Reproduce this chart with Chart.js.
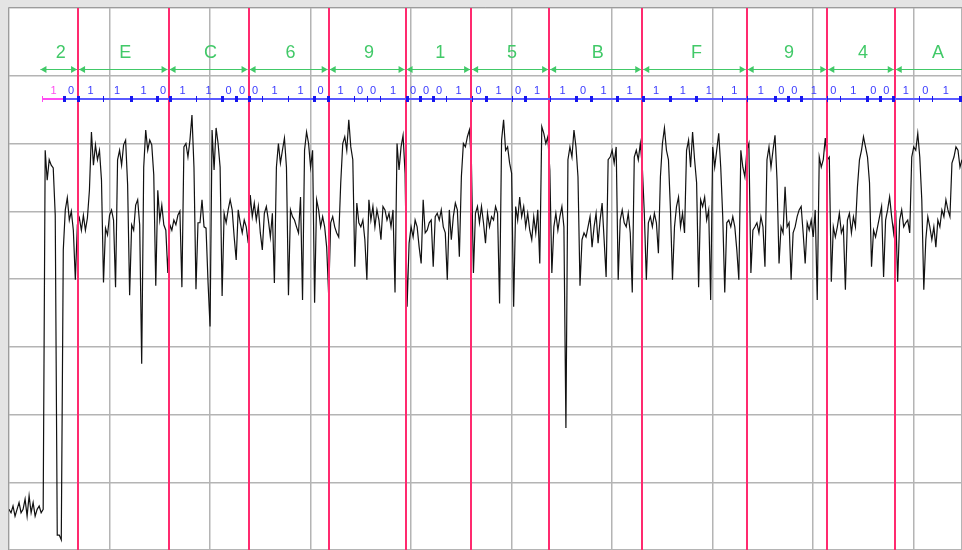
<!DOCTYPE html>
<html>
<head>
<meta charset="utf-8">
<script src="https://cdn.jsdelivr.net/npm/chart.js@4/dist/chart.umd.min.js"></script>
<style>
  html, body { margin: 0; padding: 0; background: #e4e4e4; overflow: hidden; }
  canvas { display: block; }
</style>
</head>
<body>
<canvas id="scope" width="962" height="550"></canvas>
<script>
// Sample spacing of the captured trace (time units per sample)
const SAMPLE_STEP = 2;

// Captured receiver output, one value per sample
const signal = [
  0.6,0.55,0.65,0.5,0.6,0.7,0.55,0.6,0.75,0.5,
  0.8,0.55,0.7,0.5,0.6,0.65,0.55,0.6,5.9,5.46,
  5.76,5.68,5.64,4.94,0.22,0.22,0.15,4.43,5.02,5.2,
  4.87,5.0,4.72,3.99,4.8,4.9,4.72,4.94,4.72,4.9,
  5.31,6.17,5.68,5.98,5.76,5.9,5.46,3.95,4.75,4.65,
  4.94,5.02,4.87,3.88,5.76,5.9,5.68,5.98,6.05,5.39,
  3.76,4.8,4.72,5.09,5.17,4.8,2.75,5.65,6.2,5.9,
  6.05,5.98,5.54,3.9,5.31,4.87,5.09,4.8,4.72,4.09,
  4.8,4.72,4.87,4.8,4.94,5.0,3.88,5.95,6.0,5.8,
  6.05,6.42,5.65,3.85,4.83,4.83,5.17,4.77,4.75,3.95,
  3.3,6.2,5.61,6.23,6.0,5.65,3.75,4.97,4.83,5.02,
  5.17,5.02,4.62,4.28,5.02,4.83,4.68,4.87,4.77,4.53,
  5.24,4.92,5.12,4.87,5.07,4.68,4.43,4.97,5.07,4.87,
  4.62,4.97,3.94,5.65,6.0,5.71,5.9,6.08,5.65,3.76,
  5.02,4.92,4.87,4.77,4.68,5.21,3.69,5.9,6.17,6.0,
  5.65,5.9,3.65,5.17,5.02,4.77,4.92,4.77,4.47,3.76,
  4.83,4.92,4.77,4.68,4.62,5.42,6.0,6.1,5.9,6.35,
  5.95,5.76,4.18,5.12,4.83,4.77,4.87,4.58,3.99,5.17,
  4.87,5.07,4.77,5.02,4.87,4.58,5.07,5.02,4.87,4.97,
  4.77,5.02,3.8,6.0,5.61,5.95,6.12,5.56,3.59,4.53,
  4.77,4.62,4.87,4.77,4.47,4.23,5.17,4.68,4.72,4.83,
  4.87,4.18,4.92,4.97,4.87,5.02,4.77,4.68,3.99,5.02,
  4.58,4.92,5.12,5.02,4.33,5.51,6.0,5.95,6.1,6.2,
  5.71,4.09,4.97,5.07,4.83,5.07,4.83,4.53,4.97,4.77,
  4.92,4.87,5.07,4.97,3.64,6.05,6.35,5.9,5.95,5.71,
  5.56,3.59,5.07,4.87,5.21,4.92,5.07,4.77,4.97,4.72,
  4.58,4.92,4.68,5.02,4.23,6.25,6.15,6.0,6.1,5.61,
  4.09,4.77,4.97,4.72,4.92,5.07,4.77,1.8,5.76,5.95,
  5.8,6.2,5.95,5.51,3.9,4.58,4.68,4.62,4.77,4.92,
  4.47,4.77,4.97,4.53,4.87,5.12,4.58,4.03,5.76,5.8,
  5.9,5.71,5.95,3.99,4.87,5.02,4.83,4.77,4.97,4.68,
  3.8,5.8,5.9,5.76,6.0,5.65,4.97,3.99,4.83,4.92,
  4.77,4.97,4.83,4.38,5.51,6.0,6.23,5.9,5.76,5.02,
  3.99,4.77,5.07,5.21,4.77,4.97,4.68,5.9,6.05,5.65,
  6.17,5.76,5.42,3.88,5.17,5.07,5.21,4.87,5.02,3.69,
  5.95,5.65,5.9,6.15,5.65,4.92,3.8,4.83,4.87,4.77,
  4.92,4.77,4.43,3.99,5.9,5.65,5.51,5.9,6.0,4.09,
  4.72,4.77,4.83,4.68,4.92,4.77,4.18,5.76,5.95,5.65,
  5.9,6.12,5.46,4.23,4.77,4.68,5.36,4.77,4.83,3.99,
  4.68,4.77,4.92,5.02,5.07,4.68,4.23,4.83,4.72,4.87,
  4.62,5.02,3.69,5.8,5.65,5.76,6.08,5.76,5.8,3.96,
  4.77,4.62,4.77,4.97,4.68,4.77,3.84,4.87,4.97,4.68,
  4.92,4.77,5.36,5.76,5.9,6.1,5.95,5.8,5.42,4.18,
  4.72,4.62,4.77,4.92,5.07,4.03,4.87,5.02,5.21,4.92,
  4.68,5.02,3.96,4.87,5.02,4.77,4.83,4.87,4.68,5.8,
  5.95,5.9,6.15,5.8,5.17,3.84,4.58,4.92,4.77,4.58,
  4.77,4.47,4.87,4.77,5.02,4.92,5.17,5.02,4.92,5.71,
  5.8,5.95,5.9,5.65,5.76,4.09,4.97
];

// Decoded nibble boundaries (time units) and their hex values
const nibbleStart = 30.3;
const nibbleMarks = [68.7,158.7,238.3,318.0,394.5,459.7,537.3,629.9,733.8,814.0,881.1];
const nibbleEnd = 963;
const nibbleLabels = ['2','E','C','6','9','1','5','B','F','9','4','A'];

// Decoded bit cells: edges (time units), bit values, emphasised edges
const bitEdges = [33.3,55.2,68.2,94.0,120.9,146.8,159.7,185.6,211.4,225.4,
                  238.3,251.2,277.1,303.0,316.9,342.8,355.7,368.7,395.5,408.5,
                  421.4,434.3,460.2,474.1,500.0,512.9,537.8,563.7,578.6,604.5,
                  630.3,657.2,683.1,709.0,733.8,761.7,774.6,787.6,813.4,826.4,
                  853.2,866.2,879.1,905.0,917.9,946.0];
const bitValues = ['1','0', '1','1','1','0', '1','1','0','0', '0','1','1','0',
                   '1','0','0','1', '0','0','0','1', '0','1','0','1', '1','0','1','1',
                   '1','1','1','1', '1','0','0','1', '0','1','0','0', '1','0','1'];
const boldEdges = [0,1,1,0,1,1,1,0,1,1, 1,0,0,1,1,0,0,0,1,1,
                   1,0,0,1,0,1,0,1,1,1, 1,1,1,0,0,1,1,1,0,0,
                   1,1,1,0,0,1];

// Vertical placement of the decoder overlay rows (signal units)
const ROW_NIBBLE_TEXT = 7.33;
const ROW_NIBBLE_ARROW = 7.10;
const ROW_BIT_TEXT = 6.775;
const ROW_BIT_LINE = 6.657;

const GREEN = '#41c968';
const BLUE_LINE = '#5a5aff';
const BLUE_TICK = '#1616f0';
const BLUE_TEXT = '#3a3aff';
const MAGENTA = '#ff4cf0';
const MARK_RED = '#ff2a6f';

const framePlugin = {
  id: 'frame',
  beforeDraw(chart) {
    const { ctx, chartArea: a } = chart;
    ctx.save();
    ctx.fillStyle = '#e4e4e4';
    ctx.fillRect(0, 0, chart.width, chart.height);
    ctx.fillStyle = '#ffffff';
    ctx.fillRect(a.left, a.top, a.right - a.left, a.bottom - a.top);
    ctx.restore();
  },
  afterDraw(chart) {
    const { ctx, chartArea: a } = chart;
    ctx.save();
    ctx.strokeStyle = '#9c9c9c';
    ctx.lineWidth = 1;
    ctx.beginPath();
    ctx.moveTo(a.left - 0.5, chart.height);
    ctx.lineTo(a.left - 0.5, a.top - 0.5);
    ctx.lineTo(chart.width, a.top - 0.5);
    ctx.stroke();
    ctx.restore();
  }
};

function arrowHead(ctx, x, y, dir) {
  ctx.beginPath();
  ctx.moveTo(x, y);
  ctx.lineTo(x - dir * 6, y - 3.5);
  ctx.lineTo(x - dir * 6, y + 3.5);
  ctx.closePath();
  ctx.fill();
}

const decoderPlugin = {
  id: 'decoder',
  afterDatasetsDraw(chart) {
    const { ctx, chartArea: a, scales: { x, y } } = chart;
    ctx.save();
    ctx.beginPath();
    ctx.rect(a.left, a.top, a.right - a.left, a.bottom - a.top);
    ctx.clip();

    // nibble boundary markers
    ctx.strokeStyle = MARK_RED;
    ctx.lineWidth = 2;
    nibbleMarks.forEach(t => {
      const px = Math.round(x.getPixelForValue(t));
      ctx.beginPath();
      ctx.moveTo(px, a.top);
      ctx.lineTo(px, a.bottom);
      ctx.stroke();
    });

    // nibble span arrows and hex labels
    const spans = [nibbleStart, ...nibbleMarks, nibbleEnd];
    const ay = Math.round(y.getPixelForValue(ROW_NIBBLE_ARROW)) + 0.5;
    const ty = y.getPixelForValue(ROW_NIBBLE_TEXT);
    ctx.strokeStyle = GREEN;
    ctx.fillStyle = GREEN;
    ctx.lineWidth = 1;
    ctx.font = '18px "Liberation Sans", Arial, sans-serif';
    ctx.textAlign = 'center';
    ctx.textBaseline = 'middle';
    for (let i = 0; i < nibbleLabels.length; i++) {
      const x0 = x.getPixelForValue(spans[i]) + 1;
      const x1 = x.getPixelForValue(spans[i + 1]) - 1;
      ctx.beginPath();
      ctx.moveTo(x0, ay);
      ctx.lineTo(x1, ay);
      ctx.stroke();
      arrowHead(ctx, x0, ay, -1);
      arrowHead(ctx, x1, ay, 1);
      ctx.fillText(nibbleLabels[i], (x0 + x1) / 2 + 2, ty);
    }

    // bit stream line
    const ly = y.getPixelForValue(ROW_BIT_LINE);
    const e0 = x.getPixelForValue(bitEdges[0]);
    const e1 = x.getPixelForValue(bitEdges[1]);
    ctx.lineWidth = 2;
    ctx.strokeStyle = MAGENTA;
    ctx.beginPath(); ctx.moveTo(e0, ly); ctx.lineTo(e1, ly); ctx.stroke();
    ctx.strokeStyle = BLUE_LINE;
    ctx.beginPath(); ctx.moveTo(e1, ly); ctx.lineTo(a.right, ly); ctx.stroke();

    // bit cell edges
    bitEdges.forEach((t, i) => {
      const px = Math.round(x.getPixelForValue(t));
      ctx.fillStyle = i === 0 ? MAGENTA : BLUE_TICK;
      const w = boldEdges[i] ? 3 : 1;
      ctx.fillRect(px - Math.floor(w / 2), ly - 3, w, 6);
    });

    // bit values
    const by = y.getPixelForValue(ROW_BIT_TEXT);
    ctx.font = '11px "Liberation Sans", Arial, sans-serif';
    bitValues.forEach((b, i) => {
      const cx = (x.getPixelForValue(bitEdges[i]) + x.getPixelForValue(bitEdges[i + 1])) / 2;
      ctx.fillStyle = i === 0 ? MAGENTA : BLUE_TEXT;
      ctx.fillText(b, cx, by);
    });
    ctx.restore();
  }
};

const gridStyle = { color: '#b4b4b4', lineWidth: 1.5, drawTicks: false };

new Chart(document.getElementById('scope'), {
  type: 'line',
  data: {
    datasets: [{
      data: signal.map((v, i) => ({ x: i * SAMPLE_STEP, y: v })),
      borderColor: '#111111',
      borderWidth: 1.2,
      pointRadius: 0,
      tension: 0,
      fill: false
    }]
  },
  options: {
    responsive: false,
    animation: false,
    layout: { padding: { left: 9, top: 8, right: 0, bottom: 0 } },
    plugins: { legend: { display: false }, tooltip: { enabled: false } },
    scales: {
      x: {
        type: 'linear', min: 0, max: 948,
        ticks: { display: false, stepSize: 100 },
        grid: gridStyle,
        border: { display: false }
      },
      y: {
        min: 0, max: 8,
        ticks: { display: false, stepSize: 1 },
        grid: gridStyle,
        border: { display: false }
      }
    }
  },
  plugins: [framePlugin, decoderPlugin]
});
</script>
</body>
</html>
